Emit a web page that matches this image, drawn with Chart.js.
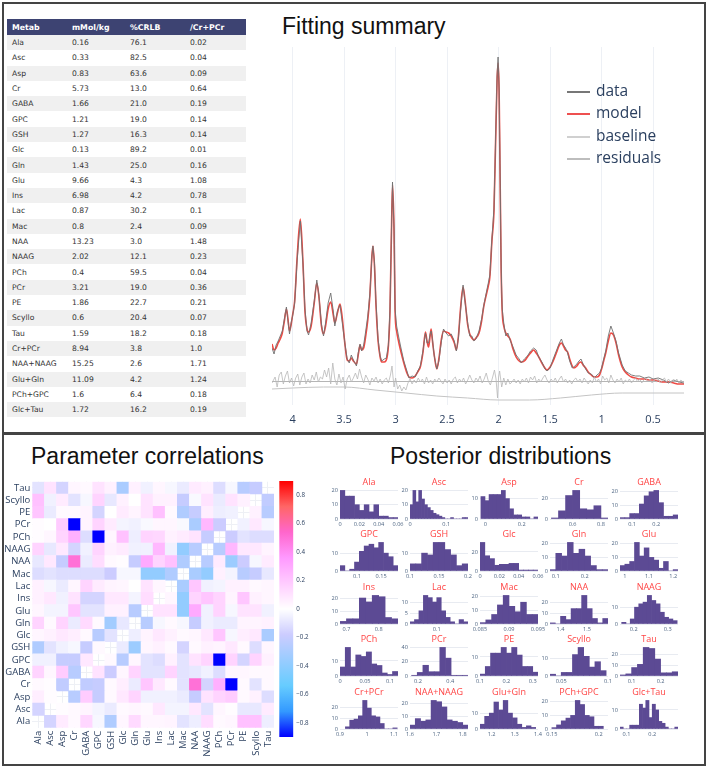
<!DOCTYPE html>
<html>
<head>
<meta charset="utf-8">
<script src="https://cdn.jsdelivr.net/npm/chart.js@4.4.1/dist/chart.umd.min.js"></script>
<style>
  body { margin: 0; width: 709px; height: 774px; position: relative; background: #fff; overflow: hidden; font-family: "Liberation Sans", Arial, sans-serif; }
  .frame { position: absolute; border: 2px solid #444; }
  .big-title { position: absolute; font-size: 23px; line-height: 23px; color: #111; white-space: nowrap; }
  .box { position: absolute; }
  table.summary { position: absolute; left: 7px; top: 19px; width: 239px; border-collapse: collapse; font-family: "DejaVu Sans", Verdana, sans-serif; font-size: 7.6px; color: #333; table-layout: fixed; }
  table.summary th { background: #3d4372; color: #fff; font-weight: bold; font-size: 7.8px; text-align: left; height: 16px; padding: 0 0 0 5px; }
  table.summary td { height: 15.3px; padding: 0 0 0 5px; }
  table.summary tr:nth-child(odd) td { background: #f0f0f0; }
  .legend { position: absolute; left: 567px; top: 79px; font-family: "Open Sans", sans-serif; font-size: 15.5px; color: #2a3f5f; }
  .legend div { height: 22.4px; line-height: 22.4px; white-space: nowrap; }
  .legend span { display: inline-block; width: 23px; height: 2px; vertical-align: middle; margin-right: 6px; }
</style>
</head>
<body>
<div class="frame" style="left:2px; top:2px; width:700px; height:428px;"></div>
<div class="frame" style="left:2px; top:433px; width:700px; height:329px;"></div>

<table class="summary" id="summary"></table>

<div class="big-title" style="left:282px; top:15px;">Fitting summary</div>
<div class="box" style="left:262px; top:40px; width:430px; height:390px;"><canvas id="specChart"></canvas></div>
<div class="legend">
  <div><span style="background:#777;"></span>data</div>
  <div><span style="background:#ee5050;"></span>model</div>
  <div><span style="background:#d0d0d0;"></span>baseline</div>
  <div><span style="background:#bdbdbd;"></span>residuals</div>
</div>

<div class="big-title" style="left:31px; top:445px;">Parameter correlations</div>
<div class="box" style="left:2px; top:476px; width:272px; height:290px;"><canvas id="corrChart"></canvas></div>
<div class="box" style="left:276px; top:476px; width:38px; height:261px;"><canvas id="cbarChart"></canvas></div>

<div class="big-title" style="left:390px; top:445px;">Posterior distributions</div>
<div id="posteriors"></div>

<script>
// summary table
const tableNames = ["Ala", "Asc", "Asp", "Cr", "GABA", "GPC", "GSH", "Glc", "Gln", "Glu", "Ins", "Lac", "Mac", "NAA", "NAAG", "PCh", "PCr", "PE", "Scyllo", "Tau", "Cr+PCr", "NAA+NAAG", "Glu+Gln", "PCh+GPC", "Glc+Tau"];
const tableConc = ["0.16", "0.33", "0.83", "5.73", "1.66", "1.21", "1.27", "0.13", "1.43", "9.66", "6.98", "0.87", "0.8", "13.23", "2.02", "0.4", "3.21", "1.86", "0.6", "1.59", "8.94", "15.25", "11.09", "1.6", "1.72"];
const tableCrlb = ["76.1", "82.5", "63.6", "13.0", "21.0", "19.0", "16.3", "89.2", "25.0", "4.3", "4.2", "30.2", "2.4", "3.0", "12.1", "59.5", "19.0", "22.7", "20.4", "18.2", "3.8", "2.6", "4.2", "6.4", "16.2"];
const tableRatio = ["0.02", "0.04", "0.09", "0.64", "0.19", "0.14", "0.14", "0.01", "0.16", "1.08", "0.78", "0.1", "0.09", "1.48", "0.23", "0.04", "0.36", "0.21", "0.07", "0.18", "1.0", "1.71", "1.24", "0.18", "0.19"];

// fitted spectrum (ppm, intensity in a.u.)
const specPpm = [
  4.2, 4.18, 4.16, 4.14, 4.12, 4.1, 4.08, 4.06, 4.045, 4.03,
  4.015, 4.0, 3.98, 3.955, 3.925, 3.9, 3.88, 3.86, 3.845, 3.82,
  3.79, 3.765, 3.745, 3.72, 3.7, 3.68, 3.655, 3.63, 3.605, 3.59,
  3.565, 3.54, 3.52, 3.49, 3.47, 3.45, 3.43, 3.41, 3.38, 3.36,
  3.345, 3.33, 3.31, 3.29, 3.27, 3.25, 3.23, 3.22, 3.205, 3.19,
  3.17, 3.15, 3.135, 3.11, 3.09, 3.07, 3.055, 3.04, 3.03, 3.015,
  3.005, 2.99, 2.97, 2.95, 2.92, 2.89, 2.87, 2.84, 2.81, 2.78,
  2.76, 2.735, 2.71, 2.695, 2.68, 2.665, 2.655, 2.64, 2.625, 2.6,
  2.58, 2.555, 2.535, 2.51, 2.485, 2.46, 2.43, 2.41, 2.39, 2.37,
  2.345, 2.325, 2.3, 2.28, 2.26, 2.24, 2.22, 2.19, 2.165, 2.145,
  2.12, 2.1, 2.085, 2.065, 2.045, 2.03, 2.015, 2.005, 1.995, 1.985,
  1.975, 1.965, 1.95, 1.93, 1.91, 1.885, 1.86, 1.83, 1.8, 1.78,
  1.75, 1.72, 1.69, 1.66, 1.635, 1.61, 1.58, 1.55, 1.53, 1.5,
  1.47, 1.44, 1.41, 1.39, 1.37, 1.35, 1.33, 1.31, 1.285, 1.27,
  1.24, 1.22, 1.2, 1.18, 1.155, 1.13, 1.1, 1.07, 1.045, 1.02,
  1.0, 0.98, 0.96, 0.935, 0.91, 0.885, 0.86, 0.835, 0.8, 0.77,
  0.74, 0.71, 0.67, 0.63, 0.585, 0.54, 0.5, 0.45, 0.4, 0.35,
  0.3, 0.25, 0.2
];
const specModel = [
  37, 31, 33, 38, 42, 48, 60, 72, 62, 50,
  56, 66, 80, 125, 162, 120, 70, 52, 49, 55,
  78, 98, 85, 55, 47, 55, 72, 79, 66, 58,
  68, 77, 65, 35, 21, 20, 23, 20, 17, 28,
  36, 31, 33, 45, 61, 85, 125, 135, 115, 75,
  40, 24, 19, 19, 21, 35, 68, 150, 196, 150,
  70, 50, 39, 30, 18, 8, 4, 3, 5, 10,
  14, 28, 49, 40, 34, 45, 52, 38, 26, 12,
  22, 42, 50, 49, 48, 45, 38, 31, 45, 72,
  94, 80, 56, 47, 43, 41, 43, 48, 60, 74,
  86, 95, 104, 140, 170, 235, 300, 318, 290, 200,
  110, 70, 55, 48, 45, 41, 32, 24, 20, 19,
  20, 24, 28, 31, 28, 24, 18, 13, 11, 14,
  20, 28, 36, 38, 35, 31, 29, 22, 15, 13,
  15, 18, 19, 16, 13, 9, 6, 4, 4, 6,
  12, 20, 28, 40, 48, 46, 38, 26, 14, 9,
  6, 4, 3, 2, 2, 1, 1, 0, -1, -1,
  -2, -3, -3
];
const specData = [
  33, 27, 36, 40, 45, 50, 62, 74, 60, 47,
  58, 65, 78, 122, 160, 118, 72, 50, 46, 58,
  80, 101, 86, 57, 45, 58, 78, 88, 70, 55,
  70, 76, 60, 36, 22, 18, 26, 21, 15, 30,
  37, 30, 36, 50, 65, 87, 125, 135, 118, 78,
  42, 25, 20, 22, 23, 36, 70, 152, 199, 152,
  72, 55, 44, 34, 20, 10, 3, 5, 4, 11,
  15, 30, 48, 38, 38, 47, 50, 40, 25, 12,
  20, 40, 52, 48, 45, 47, 40, 30, 43, 70,
  96, 78, 58, 45, 45, 40, 42, 50, 62, 75,
  88, 98, 106, 142, 172, 238, 305, 324, 292, 205,
  112, 72, 58, 45, 48, 40, 34, 26, 22, 18,
  22, 25, 30, 33, 31, 24, 19, 12, 10, 13,
  22, 30, 38, 42, 36, 33, 28, 20, 13, 14,
  17, 20, 22, 17, 12, 8, 7, 3, 6, 8,
  13, 22, 30, 45, 55, 48, 40, 28, 16, 10,
  8, 6, 5, 5, 3, 4, 2, 3, 1, -2,
  1, -1, -2
];
const basePpm = [4.2, 4.0, 3.7, 3.5, 3.2, 2.9, 2.6, 2.3, 2.0, 1.7, 1.4, 1.1, 0.8, 0.5, 0.2];
const baseVals = [-8, -7, -6, -6, -9, -12, -15, -17, -19, -19, -17, -14, -12, -12, -12];
const residPpm = [
  4.2, 4.17, 4.15, 4.13, 4.11, 4.09, 4.07, 4.05, 4.03, 4.01,
  3.99, 3.97, 3.95, 3.93, 3.91, 3.89, 3.87, 3.85, 3.83, 3.81,
  3.79, 3.77, 3.75, 3.73, 3.71, 3.69, 3.67, 3.65, 3.63, 3.61,
  3.59, 3.57, 3.55, 3.53, 3.51, 3.49, 3.47, 3.45, 3.43, 3.41,
  3.39, 3.37, 3.35, 3.33, 3.31, 3.29, 3.27, 3.25, 3.23, 3.21,
  3.19, 3.17, 3.15, 3.13, 3.11, 3.09, 3.07, 3.05, 3.035, 3.025,
  3.015, 3.0, 2.98, 2.96, 2.94, 2.92, 2.9, 2.88, 2.86, 2.84,
  2.82, 2.8, 2.78, 2.76, 2.74, 2.72, 2.7, 2.68, 2.66, 2.64,
  2.62, 2.6, 2.58, 2.56, 2.54, 2.52, 2.5, 2.48, 2.46, 2.44,
  2.42, 2.4, 2.38, 2.36, 2.34, 2.32, 2.3, 2.28, 2.26, 2.24,
  2.22, 2.2, 2.18, 2.16, 2.14, 2.12, 2.1, 2.08, 2.06, 2.04,
  2.025, 2.01, 2.0, 1.99, 1.97, 1.95, 1.93, 1.91, 1.89, 1.87,
  1.85, 1.83, 1.81, 1.79, 1.77, 1.75, 1.73, 1.71, 1.69, 1.67,
  1.65, 1.63, 1.61, 1.59, 1.57, 1.55, 1.53, 1.51, 1.49, 1.47,
  1.45, 1.43, 1.41, 1.39, 1.37, 1.35, 1.33, 1.31, 1.29, 1.27,
  1.25, 1.23, 1.21, 1.19, 1.17, 1.15, 1.13, 1.11, 1.09, 1.07,
  1.05, 1.03, 1.01, 0.99, 0.97, 0.95, 0.93, 0.91, 0.89, 0.87,
  0.85, 0.83, 0.81, 0.79, 0.77, 0.75, 0.73, 0.71, 0.69, 0.67,
  0.65, 0.63, 0.61, 0.59, 0.57, 0.55, 0.53, 0.51, 0.49, 0.47,
  0.45, 0.43, 0.41, 0.39, 0.37, 0.35, 0.33, 0.31, 0.29, 0.27,
  0.25, 0.23, 0.21, 0.2
];
const residVals = [
  -2, 4, -6, 6, 9, -3, 5, 10, -2, 3,
  -5, 3, 7, -4, 4, 8, -3, 2, -2, 6,
  1, 9, -1, 4, 2, 11, 4, 13, -3, 18,
  2, -4, 7, -2, 4, -8, 2, 6, -1, 3,
  8, 2, 12, 4, -2, 6, 2, -4, 3, 0,
  4, -2, 2, -3, 1, 3, -2, 6, 15, 4,
  -6, 3, -8, -4, -10, -6, -9, -2, 2, -3,
  1, -2, 3, -1, 2, -3, 4, -2, 1, -3,
  2, -1, 3, 0, -3, 2, -2, 1, -3, 2,
  4, -2, 2, -1, 3, -3, 1, 6, 1, -2,
  3, 0, 5, -2, 2, 8, 0, -4, 3, 11,
  2, -17, 4, 10, -6, 3, -4, 2, -3, -1,
  2, -2, 1, -3, 2, -1, 3, -2, 4, 1,
  5, -2, 2, -1, 3, 6, 1, -2, 2, -1,
  3, -2, 2, 5, -1, 2, -2, 1, -3, 1,
  3, -1, 2, -2, 3, 0, -3, 1, -2, 4,
  -1, 2, -3, 5, 1, 3, -2, 6, 1, -2,
  2, -1, 3, -3, 1, -1, 2, -2, 1, 3,
  -1, 2, -2, 1, 3, -1, 2, -2, 1, -1,
  2, -2, 1, 3, -1, 2, -2, 1, -1, 2,
  -2, 1, -1, 0
];
const specTicks = [4, 3.5, 3, 2.5, 2, 1.5, 1, 0.5];

// correlation matrix, rows and columns in metab order (null on the diagonal)
const metabs = ["Ala", "Asc", "Asp", "Cr", "GABA", "GPC", "GSH", "Glc", "Gln", "Glu", "Ins", "Lac", "Mac", "NAA", "NAAG", "PCh", "PCr", "PE", "Scyllo", "Tau"];
const corr = [
  [null, -0.15, 0.07, 0.02, 0.14, -0.03, -0.28, 0.03, 0.13, 0.03, 0.03, 0.04, -0.1, -0.06, 0.12, 0.02, 0.03, 0.22, 0.22, -0.06],
  [-0.15, null, 0.01, 0.02, 0.04, -0.04, -0.07, 0.02, 0.03, 0.02, 0.08, -0.04, -0.04, 0.08, -0.1, 0.03, 0.01, -0.08, -0.08, 0.07],
  [0.06, 0.01, null, -0.25, 0.18, -0.2, 0.02, 0.08, 0.15, -0.05, -0.05, -0.05, -0.07, -0.2, 0.1, 0.15, 0.18, 0.02, 0.05, -0.12],
  [0.02, 0.01, -0.22, null, -0.22, -0.2, 0.02, 0.06, -0.07, 0.2, 0.08, 0.02, -0.1, 0.5, -0.15, 0.28, -0.9, 0.02, -0.1, 0.02],
  [0.15, 0.03, 0.18, -0.25, null, 0.1, -0.18, 0.03, 0.15, -0.1, -0.1, 0.15, -0.1, -0.08, -0.05, -0.12, 0.03, 0.03, 0.02, 0.02],
  [-0.05, -0.05, -0.2, -0.2, 0.08, null, 0.02, -0.25, 0.03, -0.1, -0.12, 0.05, -0.1, 0.1, 0.15, -0.9, 0.15, -0.15, 0.15, 0.05],
  [-0.28, -0.1, -0.05, -0.03, -0.2, 0.02, null, -0.07, -0.35, 0.03, 0.05, 0.02, -0.15, 0.02, 0.05, 0.04, 0.08, 0.02, -0.12, 0.03],
  [0.03, 0.05, 0.08, 0.06, 0.02, -0.25, -0.1, null, -0.06, 0.04, 0.08, 0.05, 0.02, 0.03, 0.08, 0.2, -0.03, 0.06, 0.08, -0.3],
  [0.15, 0.02, 0.15, -0.07, 0.13, 0.02, -0.33, -0.08, null, -0.25, -0.03, 0.02, -0.03, -0.2, -0.05, -0.07, -0.07, 0.04, 0.04, 0.05],
  [0.03, -0.04, -0.04, 0.2, -0.1, -0.1, 0.05, 0.05, -0.25, null, 0.1, 0.1, -0.38, 0.3, -0.05, 0.15, -0.03, 0.1, 0.1, -0.05],
  [0.05, 0.08, -0.05, 0.1, -0.15, -0.15, 0.08, 0.08, -0.04, 0.12, null, 0.03, -0.38, 0.15, 0.2, 0.15, 0.04, 0.2, 0.05, 0.03],
  [0.05, -0.03, -0.07, 0.03, 0.15, 0.07, 0.04, 0.03, 0, 0.1, 0.03, null, -0.3, 0.2, -0.05, -0.04, 0.05, 0.05, 0.02, 0.03],
  [-0.12, -0.1, -0.12, -0.12, -0.12, -0.12, -0.18, -0.03, -0.03, -0.38, -0.38, -0.28, null, -0.3, -0.38, 0.05, -0.04, -0.25, -0.2, -0.08],
  [-0.08, 0.08, -0.2, 0.5, -0.07, 0.12, 0.02, 0.01, -0.2, 0.3, 0.15, 0.22, -0.28, null, -0.25, 0.07, -0.35, -0.18, -0.03, 0.07],
  [0.15, -0.08, 0.08, -0.15, -0.05, 0.15, 0.05, 0.07, -0.05, -0.05, 0.25, -0.05, -0.38, -0.25, null, -0.25, 0.25, 0.08, 0.08, 0.04],
  [0.01, 0.03, 0.15, 0.28, -0.12, -0.9, 0.03, 0.22, -0.06, 0.15, 0.14, 0.05, 0.07, 0.1, -0.2, null, -0.18, -0.1, -0.12, -0.12],
  [0.01, 0, 0.18, -0.9, 0.04, 0.15, 0.07, -0.04, -0.05, -0.02, 0.03, 0.03, -0.02, -0.3, 0.25, -0.18, null, -0.05, 0.08, -0.03],
  [0.2, -0.07, 0.02, 0.02, 0.04, -0.15, 0, 0.07, 0.04, 0.1, 0.22, 0.02, -0.28, -0.2, 0.06, -0.06, -0.05, null, 0.05, -0.25],
  [0.22, -0.05, 0.07, -0.1, -0.03, 0.15, -0.08, 0.05, 0, 0.1, 0.05, 0.05, -0.2, -0.02, 0.1, -0.07, 0.1, 0.05, null, -0.22],
  [-0.1, 0.1, -0.15, 0.03, 0.02, 0.1, 0.05, -0.3, 0.05, -0.05, 0.03, -0.03, -0.07, 0.07, 0.05, -0.12, -0.03, -0.25, -0.2, null]
];
const corrMin = -0.9;
const corrMax = 0.9;
const colorbarTicks = [-0.8, -0.6, -0.4, -0.2, 0, 0.2, 0.4, 0.6, 0.8];
const picnicStops = [
  [0, [0, 0, 255]], [0.1, [51, 153, 255]], [0.2, [102, 204, 255]], [0.3, [153, 204, 255]],
  [0.4, [204, 204, 255]], [0.5, [255, 255, 255]], [0.6, [255, 204, 255]], [0.7, [255, 153, 255]],
  [0.8, [255, 102, 204]], [0.9, [255, 102, 102]], [1, [255, 0, 0]]
];

// posterior histograms
const postNames = ["Ala", "Asc", "Asp", "Cr", "GABA", "GPC", "GSH", "Glc", "Gln", "Glu", "Ins", "Lac", "Mac", "NAA", "NAAG", "PCh", "PCr", "PE", "Scyllo", "Tau", "Cr+PCr", "NAA+NAAG", "Glu+Gln", "PCh+GPC", "Glc+Tau"];
const postBinStart = [0, 0, -0.025, 0.45, 0.05, 0.065, 0.1, 0, 0.08, 0.98, 0.68, 0.04, 0.085, 1.36, 0.165, 0, 0.16, 0.1, 0.038, 0.06, 0.92, 1.6, 1.15, 0.15, 0.075];
const postBinWidth = [0.005, 0.008, 0.0225, 0.05, 0.02, 0.01, 0.01, 0.005, 0.02, 0.02, 0.02, 0.01, 0.001, 0.02, 0.0125, 0.0105, 0.035, 0.02, 0.006, 0.02, 0.016, 0.02, 0.02, 0.005, 0.0125];
const postCounts = [
  [20, 16, 16, 10, 6, 10, 5, 10, 2, 2, 1, 1],
  [10, 20, 12, 20, 14, 10, 8, 6, 4, 3, 2, 1, 0, 0, 1, 0, 0, 0, 1, 1],
  [11, 9, 12, 12, 12, 14, 10, 5, 2, 2, 1, 1, 0, 1],
  [1, 8, 23, 28, 10, 9, 13, 1],
  [1, 1, 4, 4, 11, 17, 20, 21, 12, 2, 2, 3],
  [3, 0, 1, 5, 11, 14, 15, 13, 16, 10, 8, 3],
  [4, 4, 10, 9, 16, 16, 12, 9, 3, 4],
  [30, 16, 13, 6, 7, 7, 8, 8, 1, 1, 1, 1],
  [1, 13, 11, 21, 13, 16, 11, 4, 1, 1],
  [4, 5, 7, 21, 11, 17, 10, 8, 2, 7, 0, 1],
  [2, 4, 4, 20, 17, 22, 21, 5, 4],
  [1, 2, 6, 13, 12, 10, 12, 6, 3, 1, 0, 2, 1],
  [1, 3, 7, 14, 21, 13, 9, 16, 7, 7],
  [1, 0, 7, 4, 14, 14, 26, 14, 5, 1, 5],
  [1, 0, 3, 10, 12, 13, 17, 14, 12, 7, 4, 3, 2],
  [6, 19, 6, 14, 13, 16, 8, 7, 2, 1, 3],
  [1, 5, 15, 6, 6, 40, 25, 1, 1, 1],
  [1, 5, 12, 12, 15, 12, 15, 11, 5, 5, 2],
  [1, 0, 2, 2, 12, 16, 11, 5, 8, 3],
  [1, 2, 8, 11, 27, 26, 16, 3, 3, 4],
  [2, 8, 9, 12, 26, 19, 12, 11, 5, 0, 0, 1],
  [3, 8, 6, 7, 22, 21, 17, 7, 6, 5, 3],
  [3, 8, 10, 17, 12, 18, 10, 7, 3, 1, 2, 1],
  [1, 3, 6, 8, 10, 21, 18, 10, 9, 2, 2],
  [1, 0, 0, 2, 2, 2, 13, 11, 15, 6, 13, 10, 4, 3, 1, 0, 0, 1]
];
const postXMin = [0, 0, -0.03, 0.44, 0.05, 0.065, 0.1, 0, 0.08, 0.98, 0.68, 0.04, 0.085, 1.36, 0.16, 0, 0.15, 0.1, 0.038, 0.06, 0.9, 1.6, 1.15, 0.148, 0.075];
const postXMax = [0.06, 0.16, 0.29, 0.85, 0.29, 0.185, 0.2, 0.06, 0.28, 1.22, 0.86, 0.17, 0.095, 1.58, 0.33, 0.116, 0.51, 0.32, 0.1, 0.26, 1.115, 1.82, 1.4, 0.21, 0.3];
const postXTicks = [
  [0, 0.02, 0.04, 0.06], [0, 0.1], [0, 0.2], [0.6, 0.8], [0.1, 0.2],
  [0.1, 0.15], [0.1, 0.15, 0.2], [0, 0.02, 0.04, 0.06], [0.1, 0.2], [1, 1.1, 1.2],
  [0.7, 0.8], [0.1], [0.085, 0.09, 0.095], [1.4, 1.5], [0.2, 0.3],
  [0, 0.05, 0.1], [0.2, 0.4], [0.1, 0.2, 0.3], [0.05, 0.1], [0.1, 0.2],
  [0.9, 1, 1.1], [1.6, 1.7, 1.8], [1.2, 1.3, 1.4], [0.15, 0.2], [0.1, 0.2]
];
const postYStep = [10, 10, 10, 20, 10, 10, 10, 20, 10, 10, 10, 5, 10, 10, 10, 10, 20, 10, 10, 10, 10, 10, 10, 10, 10];

Chart.defaults.font.family = "'Open Sans', 'Liberation Sans', sans-serif";
Chart.defaults.color = "#2a3f5f";
Chart.defaults.animation = false;
Chart.defaults.responsive = true;
Chart.defaults.maintainAspectRatio = false;
Chart.defaults.plugins.legend.display = false;
Chart.defaults.plugins.tooltip.enabled = false;

// 1. Table
const tbl = document.getElementById("summary");
let html = '<colgroup><col style="width:60px"><col style="width:58px"><col style="width:60px"><col style="width:61px"></colgroup>';
html += "<thead><tr><th>Metab</th><th>mMol/kg</th><th>%CRLB</th><th>/Cr+PCr</th></tr></thead><tbody>";
tableNames.forEach((n, i) => {
    html += "<tr><td>" + n + "</td><td>" + tableConc[i] + "</td><td>" + tableCrlb[i] + "</td><td>" + tableRatio[i] + "</td></tr>";
});
tbl.innerHTML = html + "</tbody>";

// 2. Spectrum fit
const toXY = (xs, ys) => xs.map((x, i) => ({ x: x, y: ys[i] }));
new Chart(document.getElementById("specChart"), {
    type: "line",
    data: {
        datasets: [
            { label: "residuals", data: toXY(residPpm, residVals), borderColor: "#b8b8b8", borderWidth: 0.8 },
            { label: "baseline", data: toXY(basePpm, baseVals), borderColor: "#c4c4c4", borderWidth: 1, cubicInterpolationMode: "monotone" },
            { label: "data", data: toXY(specPpm, specData), borderColor: "#707070", borderWidth: 0.9 },
            { label: "model", data: toXY(specPpm, specModel), borderColor: "#ef4a44", borderWidth: 1.6, cubicInterpolationMode: "monotone" }
        ]
    },
    options: {
        layout: { padding: { left: 10, right: 8, top: 7, bottom: 0 } },
        elements: { point: { radius: 0 } },
        scales: {
            x: {
                type: "linear", reverse: true, min: 0.2, max: 4.2,
                afterBuildTicks: s => { s.ticks = specTicks.map(v => ({ value: v })); },
                ticks: { callback: v => String(v), font: { size: 11 }, color: "#2a3f5f", padding: 8, maxRotation: 0, autoSkip: false },
                grid: { color: "#edf0f5", drawTicks: false },
                border: { display: false },
                afterFit: s => { s.height = 25; s.paddingLeft = 0; s.paddingRight = 0; }
            },
            y: {
                min: -24, max: 334,
                afterBuildTicks: s => { s.ticks = [{ value: 0 }]; },
                ticks: { display: false },
                grid: { color: "#b5b5b5", drawTicks: false },
                border: { display: false },
                afterFit: s => { s.width = 0; s.paddingTop = 0; s.paddingBottom = 0; }
            }
        }
    }
});

// 3. Correlation heatmap
function picnic(v) {
    let t = (v - corrMin) / (corrMax - corrMin);
    t = Math.max(0, Math.min(1, t));
    for (let i = 0; i < picnicStops.length - 1; i++) {
        const [t0, c0] = picnicStops[i];
        const [t1, c1] = picnicStops[i + 1];
        if (t <= t1) {
            const f = (t - t0) / (t1 - t0);
            const c = c0.map((a, k) => Math.round(a + (c1[k] - a) * f));
            return "rgb(" + c.join(",") + ")";
        }
    }
    return "rgb(255,0,0)";
}

new Chart(document.getElementById("corrChart"), {
    type: "bar",
    data: {
        labels: metabs,
        datasets: corr.map((row, r) => ({
            data: row.map(v => v === null ? null : [r - 0.5, r + 0.5]),
            backgroundColor: row.map(v => v === null ? "rgba(0,0,0,0)" : picnic(v)),
            borderWidth: 0, barPercentage: 1, categoryPercentage: 1, grouped: false
        }))
    },
    options: {
        layout: { padding: { left: 0, right: 0, top: 5.7, bottom: 0 } },
        scales: {
            x: {
                ticks: { autoSkip: false, minRotation: 90, maxRotation: 90, font: { size: 9.5 }, color: "#2a3f5f", padding: 3 },
                grid: { offset: false, color: "#eef0f5", drawTicks: false },
                border: { display: false },
                afterFit: s => { s.height = 38.3; s.paddingLeft = 0; s.paddingRight = 0; }
            },
            y: {
                min: -0.5, max: 19.5,
                afterBuildTicks: s => { s.ticks = metabs.map((m, i) => ({ value: i })); },
                ticks: { callback: v => metabs[v], font: { size: 9.5 }, color: "#2a3f5f", padding: 2, autoSkip: false },
                grid: { color: "#eef0f5", drawTicks: false },
                border: { display: false },
                afterFit: s => { s.width = 30.3; s.paddingTop = 0; s.paddingBottom = 0; }
            }
        }
    }
});

// colour bar
new Chart(document.getElementById("cbarChart"), {
    type: "bar",
    data: {
        labels: [""],
        datasets: [{
            data: [[corrMin, corrMax]],
            backgroundColor: ctx => {
                const chart = ctx.chart;
                if (!chart.chartArea) return "#fff";
                const ys = chart.scales.y;
                const g = chart.ctx.createLinearGradient(0, ys.getPixelForValue(corrMin), 0, ys.getPixelForValue(corrMax));
                picnicStops.forEach(([t, c]) => g.addColorStop(t, "rgb(" + c.join(",") + ")"));
                return g;
            },
            borderWidth: 0, barPercentage: 1, categoryPercentage: 1
        }]
    },
    options: {
        layout: { padding: { left: 3.3, right: 0, top: 5, bottom: 0 } },
        scales: {
            x: { display: false },
            y: {
                position: "right", min: corrMin, max: corrMax,
                afterBuildTicks: s => { s.ticks = colorbarTicks.map(v => ({ value: v })); },
                ticks: { callback: v => String(v).replace("-", "\u2212"), font: { size: 6.2 }, color: "#2a3f5f", padding: 3 },
                grid: { display: false, drawTicks: false },
                border: { display: false },
                afterFit: s => { s.width = 20.7; s.paddingTop = 0; s.paddingBottom = 0; }
            }
        }
    }
});

// 4. Posterior histograms, 5 x 5 grid
const holder = document.getElementById("posteriors");
postNames.forEach((name, k) => {
    const col = k % 5;
    const row = Math.floor(k / 5);
    const box = document.createElement("div");
    box.className = "box";
    box.style.left = (326 + 70 * col) + "px";
    box.style.top = Math.round(477 + 52.4 * row) + "px";
    box.style.width = "86px";
    box.style.height = "52px";
    const cv = document.createElement("canvas");
    box.appendChild(cv);
    holder.appendChild(box);

    const counts = postCounts[k];
    const step = postYStep[k];
    new Chart(cv, {
        type: "bar",
        data: {
            datasets: [{
                data: counts.map((n, i) => ({ x: postBinStart[k] + (i + 0.5) * postBinWidth[k], y: n })),
                backgroundColor: "#5c4a94", borderWidth: 0, barPercentage: 1, categoryPercentage: 1
            }]
        },
        options: {
            layout: { padding: 0 },
            plugins: {
                title: { display: true, text: name, color: "#ff4545", font: { size: 9, weight: "normal" }, padding: { top: 0, bottom: 1.2 } }
            },
            scales: {
                x: {
                    type: "linear", offset: false, min: postXMin[k], max: postXMax[k],
                    afterBuildTicks: s => { s.ticks = postXTicks[k].map(v => ({ value: v })); },
                    ticks: { callback: v => String(v), font: { size: 5.6 }, color: "#506784", padding: 2, maxRotation: 0, autoSkip: false },
                    grid: { display: false, drawTicks: false },
                    border: { display: false },
                    afterFit: s => { s.height = 10; s.paddingLeft = 0; s.paddingRight = 0; }
                },
                y: {
                    min: 0, max: Math.max(...counts) * 1.05,
                    afterBuildTicks: s => {
                        const t = [];
                        for (let v = 0; v <= s.max + 1e-9; v += step) t.push({ value: v });
                        s.ticks = t;
                    },
                    ticks: { font: { size: 5.6 }, color: "#506784", padding: 2 },
                    grid: { color: "#e8ebf1", drawTicks: false },
                    border: { display: false },
                    afterFit: s => { s.width = 14; s.paddingTop = 0; s.paddingBottom = 0; }
                },
                yR: {
                    position: "right", display: true,
                    ticks: { display: false },
                    grid: { display: false, drawTicks: false },
                    border: { display: false },
                    afterFit: s => { s.width = 14; }
                }
            }
        }
    });
});
</script>
</body>
</html>
